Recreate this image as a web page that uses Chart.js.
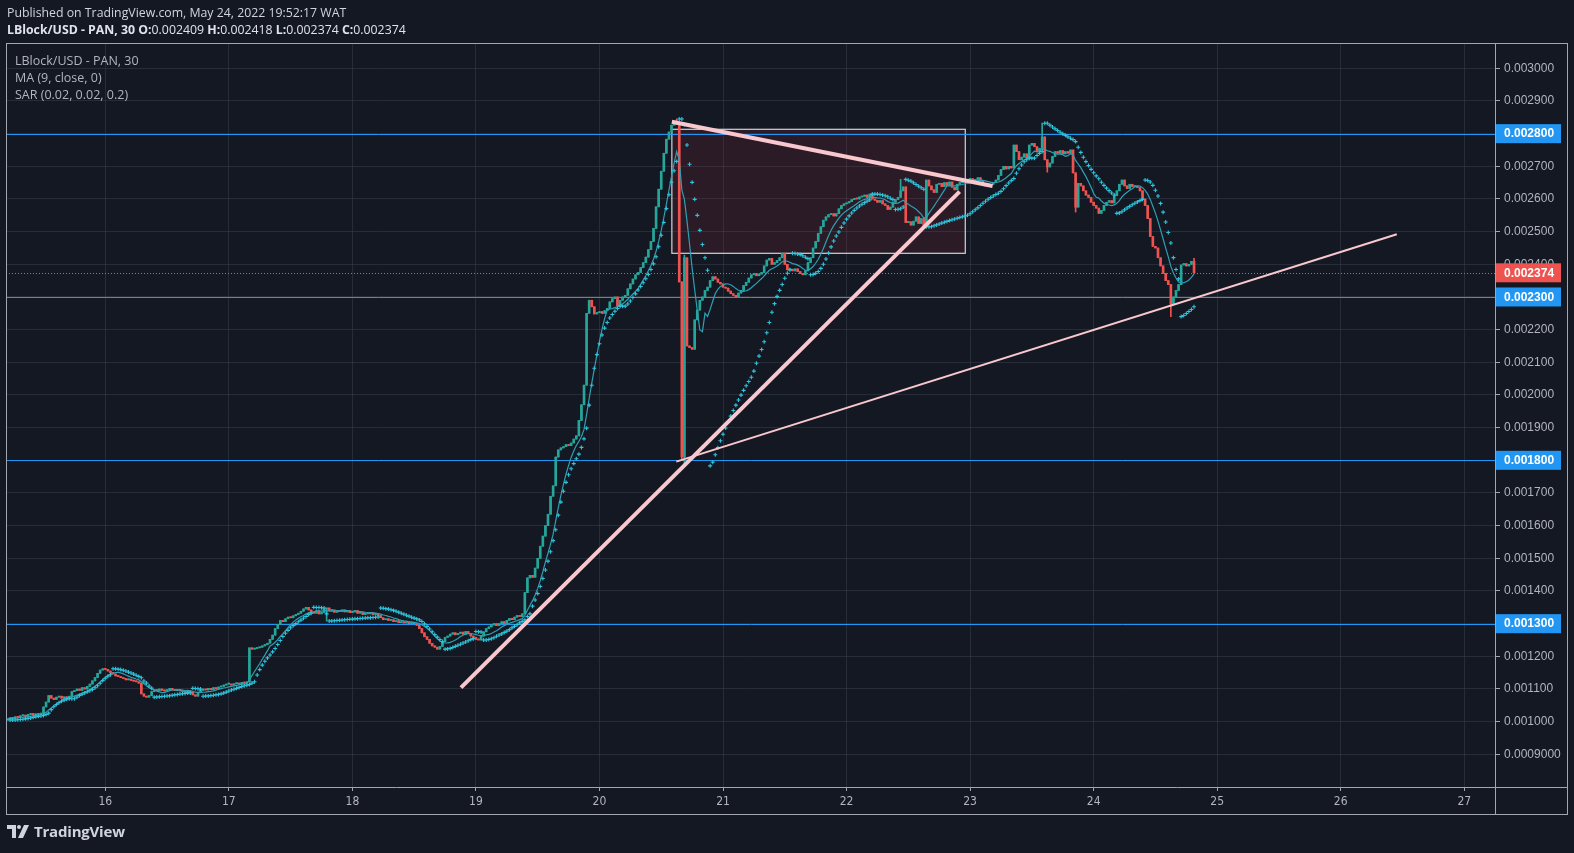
<!DOCTYPE html>
<html>
<head>
<meta charset="utf-8">
<title>LBlock/USD - PAN, 30</title>
<script src="https://cdn.jsdelivr.net/npm/chart.js@4.4.0/dist/chart.umd.min.js"></script>
<style>
  html, body { margin: 0; padding: 0; background: #141823; }
  body { width: 1574px; height: 853px; position: relative; overflow: hidden;
         font-family: "Open Sans", "Noto Sans", sans-serif; color: #d1d4dc; }
  #chart { position: absolute; left: 0; top: 0; width: 1574px; height: 853px; }
  .hdr { position: absolute; left: 7px; font-size: 12.3px; line-height: 17px; white-space: nowrap; }
  #pub { top: 4px; color: #d1d4dc; }
  #ohlc { top: 21px; color: #e0e3eb; }
  #ohlc b { font-weight: 700; }
  .leg { position: absolute; left: 15px; font-size: 12.5px; line-height: 17px; color: #b2b5be; white-space: nowrap; }
  #logo { position: absolute; left: 7px; top: 822px; height: 18px; display: flex; align-items: center;
          font-size: 15px; font-weight: 700; color: #d1d4dc; letter-spacing: -0.2px; }
  #logo svg { margin-right: 5px; }
</style>
</head>
<body>
<canvas id="chart" width="1574" height="853"></canvas>
<div class="hdr" id="pub">Published on TradingView.com, May 24, 2022 19:52:17 WAT</div>
<div class="hdr" id="ohlc"></div>
<div class="leg" style="top:52px">LBlock/USD - PAN, 30</div>
<div class="leg" style="top:69px">MA (9, close, 0)</div>
<div class="leg" style="top:86px">SAR (0.02, 0.02, 0.2)</div>
<div id="logo">
  <svg width="22" height="13" viewBox="0 0 22 13">
    <path d="M0 0h9v13H5V4H0z" fill="#d1d4dc"/>
    <circle cx="12" cy="2" r="2" fill="#d1d4dc"/>
    <path d="M17 0h5l-6 13h-5z" fill="#d1d4dc"/>
  </svg>
  <span>TradingView</span>
</div>
<script>
// 30 minute bars, closes in millionths of a dollar, one array per day
const firstDay = 15;
const firstSlot = 10; // first bar of the 15th is 05:00
const firstOpen = 1005;

const close15 = [1008, 1012, 1010, 1015, 1013, 1018, 1020, 1016, 1022, 1025, 1020, 1024, 1022, 1026, 1045, 1060, 1080, 1072, 1068, 1075,
  1078, 1072, 1076, 1070, 1078, 1092, 1095, 1100, 1096, 1104, 1100, 1108, 1115, 1125, 1135, 1148, 1158, 1162];
const close16 = [1160, 1155, 1150, 1146, 1140, 1138, 1135, 1132, 1128, 1130, 1126, 1124, 1122, 1118, 1085, 1078, 1075, 1080, 1092, 1098,
  1095, 1100, 1096, 1094, 1098, 1102, 1097, 1095, 1099, 1094, 1092, 1088, 1095, 1090, 1082, 1078, 1090, 1096, 1100, 1097,
  1102, 1098, 1104, 1100, 1106, 1108, 1112, 1115];
const close17 = [1115, 1112, 1116, 1118, 1115, 1120, 1118, 1122, 1226, 1222, 1224, 1226, 1228, 1232, 1236, 1240, 1252, 1265, 1285, 1298,
  1310, 1306, 1315, 1320, 1318, 1324, 1328, 1332, 1338, 1345, 1350, 1342, 1336, 1332, 1340, 1330, 1334, 1345, 1348, 1340,
  1342, 1335, 1340, 1337, 1342, 1336, 1340, 1334];
const close18 = [1336, 1340, 1332, 1335, 1328, 1333, 1330, 1334, 1328, 1330, 1325, 1318, 1312, 1315, 1310, 1312, 1306, 1309, 1303, 1306,
  1302, 1305, 1300, 1304, 1300, 1295, 1285, 1272, 1260, 1252, 1240, 1232, 1228, 1222, 1230, 1245, 1258, 1262, 1268, 1272,
  1266, 1270, 1274, 1268, 1276, 1270, 1262, 1258];
const close19 = [1252, 1250, 1262, 1275, 1285, 1290, 1296, 1300, 1294, 1300, 1306, 1300, 1310, 1316, 1312, 1320, 1325, 1322, 1330, 1395,
  1440, 1448, 1442, 1470, 1500, 1537, 1568, 1600, 1635, 1690, 1722, 1810, 1832, 1838, 1842, 1848, 1845, 1853, 1865, 1875,
  1922, 1970, 2030, 2250, 2290, 2270, 2248, 2252];
const close20 = [2255, 2250, 2258, 2265, 2285, 2295, 2300, 2272, 2290, 2300, 2305, 2325, 2340, 2355, 2368, 2375, 2390, 2405, 2422, 2445,
  2470, 2510, 2576, 2630, 2685, 2740, 2783, 2805, 2826, 2830, 2828, 2346, 1810, 2420, 2150, 2145, 2140, 2230, 2260, 2290,
  2300, 2320, 2330, 2350, 2362, 2355, 2345, 2340];
const close21 = [2330, 2327, 2318, 2310, 2305, 2300, 2312, 2320, 2335, 2345, 2358, 2368, 2372, 2365, 2370, 2375, 2395, 2413, 2418, 2400,
  2405, 2412, 2420, 2434, 2400, 2383, 2385, 2380, 2386, 2378, 2372, 2368, 2380, 2405, 2420, 2450, 2470, 2495, 2515, 2535,
  2545, 2552, 2555, 2548, 2555, 2570, 2580, 2585];
const close22 = [2588, 2592, 2598, 2602, 2600, 2606, 2608, 2612, 2605, 2615, 2600, 2596, 2590, 2595, 2585, 2580, 2568, 2575, 2590, 2598,
  2605, 2625, 2637, 2528, 2530, 2520, 2532, 2545, 2525, 2540, 2515, 2658, 2640, 2628, 2620, 2645, 2648, 2638, 2650, 2642,
  2652, 2636, 2628, 2645, 2650, 2658, 2655, 2660];
const close23 = [2662, 2655, 2660, 2665, 2655, 2645, 2640, 2638, 2645, 2650, 2658, 2672, 2690, 2700, 2692, 2700, 2695, 2765, 2745, 2720,
  2728, 2738, 2725, 2765, 2770, 2760, 2745, 2755, 2790, 2720, 2698, 2710, 2730, 2745, 2740, 2748, 2738, 2745, 2740, 2750,
  2680, 2575, 2648, 2640, 2625, 2612, 2605, 2590];
const close24 = [2580, 2572, 2556, 2565, 2580, 2590, 2595, 2588, 2610, 2625, 2645, 2658, 2640, 2632, 2645, 2638, 2640, 2635, 2625, 2600,
  2580, 2540, 2485, 2455, 2450, 2420, 2395, 2372, 2350, 2338, 2278, 2300, 2320, 2338, 2398, 2402, 2395, 2400, 2409, 2374];

// long wicks (same units), by day and half-hour slot
const wickDay  = [17, 20, 20, 20, 22, 23, 23, 23, 24, 24];
const wickSlot = [38, 30, 32, 33, 21, 28, 30, 41, 30, 39];
const wickHigh = [null, 2845, null, 2428, 2660, 2832, null, null, null, 2418];
const wickLow  = [1308, null, 1800, 1783, null, null, 2682, 2560, 2240, null];

// horizontal levels and drawings
const levels = [0.0028, 0.0023, 0.0018, 0.0013];
const trendA = [[18.879, 0.001104], [22.915, 0.0026223]];
const trendB = [[20.586, 0.0028365], [23.182, 0.0026397]];
const trendC = [[20.622, 0.0017959], [26.454, 0.002492]];
const boxX = [20.586, 22.961];
const boxY = [0.0024337, 0.0028133];

// axes
const xTicks = [16, 17, 18, 19, 20, 21, 22, 23, 24, 25, 26, 27];
const yTickLabels = ['0.003000', '0.002900', '0.002800', '0.002700', '0.002600', '0.002500', '0.002400', '0.002300',
  '0.002200', '0.002100', '0.002000', '0.001900', '0.001800', '0.001700', '0.001600', '0.001500', '0.001400',
  '0.001300', '0.001200', '0.001100', '0.001000', '0.0009000'];
const yTickValues = yTickLabels.map(Number);

// build candles
const days = [close15, close16, close17, close18, close19, close20, close21, close22, close23, close24];
const candles = [];
let prev = firstOpen;
days.forEach((arr, d) => {
  const start = d === 0 ? firstSlot : 0;
  arr.forEach((c, k) => {
    const slot = start + k;
    candles.push({ day: firstDay + d, slot: slot, t: firstDay + d + slot / 48,
      o: prev / 1e6, c: c / 1e6, h: Math.max(prev, c) / 1e6, l: Math.min(prev, c) / 1e6 });
    prev = c;
  });
});
wickDay.forEach((d, j) => {
  const bar = candles.find(b => b.day === d && b.slot === wickSlot[j]);
  if (!bar) return;
  if (wickHigh[j] !== null) bar.h = wickHigh[j] / 1e6;
  if (wickLow[j] !== null) bar.l = wickLow[j] / 1e6;
});

// MA (9, close)
const ma = candles.map((b, i) => {
  const win = candles.slice(Math.max(0, i - 8), i + 1);
  return { x: b.t, y: win.reduce((s, w) => s + w.c, 0) / win.length };
});

// parabolic SAR (0.02, 0.02, 0.2)
function psar(bars, step, maxAf) {
  const out = [];
  let up = bars[1].c >= bars[0].c;
  let ep = up ? bars[0].h : bars[0].l;
  let sar = up ? bars[0].l : bars[0].h;
  let af = step;
  for (let i = 1; i < bars.length; i++) {
    let next = sar + af * (ep - sar);
    const p1 = bars[i - 1], p2 = bars[Math.max(0, i - 2)];
    if (up) {
      next = Math.min(next, p1.l, p2.l);
      if (bars[i].l < next) { up = false; next = ep; ep = bars[i].l; af = step; }
      else if (bars[i].h > ep) { ep = bars[i].h; af = Math.min(af + step, maxAf); }
    } else {
      next = Math.max(next, p1.h, p2.h);
      if (bars[i].h > next) { up = true; next = ep; ep = bars[i].h; af = step; }
      else if (bars[i].l < ep) { ep = bars[i].l; af = Math.min(af + step, maxAf); }
    }
    sar = next;
    out.push({ x: bars[i].t, y: sar });
  }
  return out;
}
const sar = psar(candles, 0.02, 0.2);

const last = candles[candles.length - 1];
const lastPrice = last.c;
document.getElementById('ohlc').innerHTML = '<b>LBlock/USD - PAN, 30</b> <b>O:</b>' + last.o.toFixed(6) +
  ' <b>H:</b>' + last.h.toFixed(6) + ' <b>L:</b>' + last.l.toFixed(6) + ' <b>C:</b>' + last.c.toFixed(6);

const upCol = '#26a69a', downCol = '#ef5350';
const colors = candles.map(b => (b.c >= b.o ? upCol : downCol));
const pink = '#f9c7ce';
const gridCol = 'rgba(58, 63, 80, 0.5)';
const frameCol = '#a3a6af';

const overlay = {
  id: 'overlay',
  beforeDatasetsDraw(chart) {
    const { ctx, chartArea: a, scales: { x, y } } = chart;
    ctx.save();
    // rectangle
    const x0 = x.getPixelForValue(boxX[0]), x1 = x.getPixelForValue(boxX[1]);
    const y0 = y.getPixelForValue(boxY[1]), y1 = y.getPixelForValue(boxY[0]);
    ctx.fillStyle = 'rgba(242, 54, 69, 0.1)';
    ctx.fillRect(x0, y0, x1 - x0, y1 - y0);
    ctx.strokeStyle = '#d1d4dc';
    ctx.lineWidth = 1.2;
    ctx.strokeRect(x0, y0, x1 - x0, y1 - y0);
    // levels
    ctx.strokeStyle = '#2196f3';
    ctx.lineWidth = 1;
    levels.forEach(v => {
      const py = Math.round(y.getPixelForValue(v)) + 0.5;
      ctx.beginPath(); ctx.moveTo(a.left, py); ctx.lineTo(a.right, py); ctx.stroke();
    });
    // last price
    const lp = Math.round(y.getPixelForValue(lastPrice)) + 0.5;
    ctx.strokeStyle = '#ef5350';
    ctx.setLineDash([1, 2]);
    ctx.beginPath(); ctx.moveTo(a.left, lp); ctx.lineTo(a.right, lp); ctx.stroke();
    ctx.restore();
  },
  afterDraw(chart) {
    const { ctx, chartArea: a, scales: { y } } = chart;
    ctx.save();
    // frame
    ctx.strokeStyle = frameCol;
    ctx.lineWidth = 1;
    ctx.strokeRect(6.5, 43.5, 1561, 771);
    ctx.beginPath();
    ctx.moveTo(6, Math.round(a.bottom) + 0.5); ctx.lineTo(1568, Math.round(a.bottom) + 0.5);
    ctx.moveTo(Math.round(a.right) + 0.5, 44); ctx.lineTo(Math.round(a.right) + 0.5, 815);
    ctx.stroke();
    // price tags
    const tag = (v, col) => {
      const py = y.getPixelForValue(v);
      ctx.fillStyle = col;
      ctx.fillRect(a.right + 1, py - 9.5, 65, 19);
      ctx.fillStyle = '#ffffff';
      ctx.font = 'bold 12px "Liberation Sans", Arial, sans-serif';
      ctx.textBaseline = 'middle';
      ctx.fillText(v.toFixed(6), a.right + 9, py + 0.5);
    };
    levels.forEach(v => tag(v, '#2196f3'));
    tag(lastPrice, '#ef5350');
    ctx.restore();
  }
};

new Chart(document.getElementById('chart').getContext('2d'), {
  type: 'bar',
  data: {
    datasets: [
      { label: 'wick', data: candles.map(b => ({ x: b.t, y: [b.l, b.h] })), backgroundColor: colors,
        barThickness: 1, minBarLength: 1, grouped: false, order: 6 },
      { label: 'body', data: candles.map(b => ({ x: b.t, y: [b.o, b.c] })), backgroundColor: colors,
        barThickness: 2, minBarLength: 1, grouped: false, order: 5 },
      { type: 'line', label: 'MA', data: ma, borderColor: '#2f9fb3', borderWidth: 1.2, pointRadius: 0, order: 4 },
      { type: 'line', label: 'SAR', data: sar, showLine: false, pointStyle: 'cross', pointRadius: 2,
        borderColor: '#2ec4dc', borderWidth: 1.1, order: 3 },
      { type: 'line', label: 'trendA', data: trendA.map(p => ({ x: p[0], y: p[1] })), borderColor: pink,
        borderWidth: 4, pointRadius: 0, order: 1 },
      { type: 'line', label: 'trendB', data: trendB.map(p => ({ x: p[0], y: p[1] })), borderColor: pink,
        borderWidth: 4, pointRadius: 0, order: 1 },
      { type: 'line', label: 'trendC', data: trendC.map(p => ({ x: p[0], y: p[1] })), borderColor: pink,
        borderWidth: 2, pointRadius: 0, order: 2 }
    ]
  },
  options: {
    responsive: false,
    animation: false,
    devicePixelRatio: 1,
    events: [],
    layout: { padding: { left: 6, top: 44, right: 7, bottom: 38 } },
    plugins: { legend: { display: false }, tooltip: { enabled: false } },
    scales: {
      x: {
        type: 'linear', min: 15.1963, max: 27.2487, offset: false,
        afterBuildTicks: s => { s.ticks = xTicks.map(v => ({ value: v })); },
        afterFit: s => { s.height = 28; },
        grid: { color: gridCol, tickColor: frameCol, tickLength: 4, offset: false },
        border: { display: false },
        ticks: { color: '#b2b5be', padding: 4, maxRotation: 0, autoSkip: false,
                 font: { family: '"DejaVu Sans Condensed", "Liberation Sans Narrow", "Liberation Sans", sans-serif', size: 12 },
                 callback: v => String(v) }
      },
      y: {
        type: 'linear', position: 'right', min: 0.0008, max: 0.0030744,
        afterBuildTicks: s => { s.ticks = yTickValues.map(v => ({ value: v })); },
        afterFit: s => { s.width = 72; },
        grid: { color: gridCol, tickColor: frameCol, tickLength: 5 },
        border: { display: false },
        ticks: { color: '#b2b5be', padding: 4, autoSkip: false,
                 font: { family: '"Liberation Sans", Arial, sans-serif', size: 12 },
                 callback: (v, i) => yTickLabels[i] }
      }
    }
  },
  plugins: [overlay]
});
</script>
</body>
</html>
